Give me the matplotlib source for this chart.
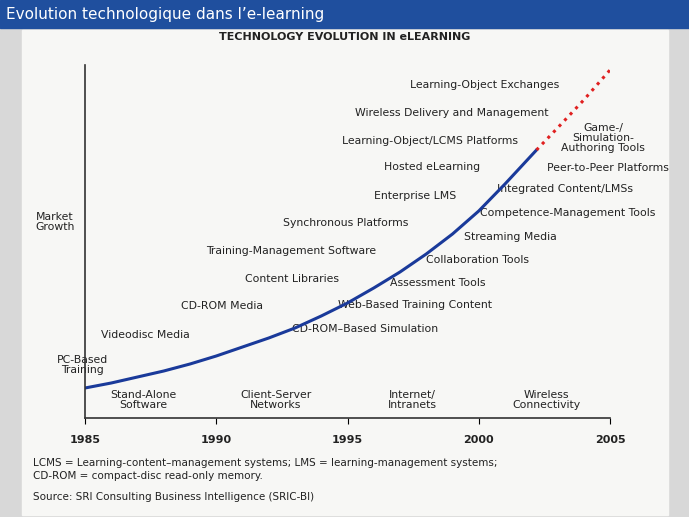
import matplotlib.pyplot as plt

# curve data (year, market growth in arbitrary units)
years_solid = [1985, 1986, 1987, 1988, 1989, 1990, 1991, 1992, 1993, 1994,
               1995, 1996, 1997, 1998, 1999, 2000, 2001, 2002.2]
growth_solid = [30, 35, 41, 47, 54, 62, 71, 80, 90, 102,
                115, 130, 146, 164, 184, 207, 234, 268]
years_future = [2002.2, 2003, 2004, 2005]
growth_future = [268, 290, 318, 348]
tick_years = [1985, 1990, 1995, 2000, 2005]

# technology labels and their pixel positions
tech_labels = [
    ("Learning-Object Exchanges", 485, 85),
    ("Wireless Delivery and Management", 452, 113),
    ("Learning-Object/LCMS Platforms", 430, 141),
    ("Game-/\nSimulation-\nAuthoring Tools", 603, 138),
    ("Hosted eLearning", 432, 167),
    ("Peer-to-Peer Platforms", 608, 168),
    ("Enterprise LMS", 415, 196),
    ("Integrated Content/LMSs", 565, 189),
    ("Competence-Management Tools", 568, 213),
    ("Synchronous Platforms", 346, 223),
    ("Streaming Media", 510, 237),
    ("Training-Management Software", 291, 251),
    ("Collaboration Tools", 478, 260),
    ("Content Libraries", 292, 279),
    ("Assessment Tools", 438, 283),
    ("CD-ROM Media", 222, 306),
    ("Web-Based Training Content", 415, 305),
    ("Videodisc Media", 145, 335),
    ("CD-ROM\u2013Based Simulation", 365, 329),
    ("PC-Based\nTraining", 82, 365),
    ("Market\nGrowth", 55, 222),
]
era_labels = [
    ("Stand-Alone\nSoftware", 143, 400),
    ("Client-Server\nNetworks", 276, 400),
    ("Internet/\nIntranets", 412, 400),
    ("Wireless\nConnectivity", 546, 400),
]

W, H = 689, 517
fig = plt.figure(figsize=(W / 100, H / 100), dpi=100)
fig.patch.set_facecolor('#d8d8d8')

# overlay in pixel coordinates
bg = fig.add_axes([0, 0, 1, 1])
bg.set_xlim(0, W)
bg.set_ylim(H, 0)
bg.axis('off')
bg.add_patch(plt.Rectangle((0, 0), W, 28, color='#1f4f9e'))
bg.add_patch(plt.Rectangle((22, 30), 646, 485, color='#f7f7f5'))
bg.text(6, 14, "Evolution technologique dans l\u2019e-learning", color='white',
        fontsize=11, va='center', ha='left')
bg.text(345, 37, "TECHNOLOGY EVOLUTION IN eLEARNING", fontsize=8,
        fontweight='bold', ha='center', va='center', color='#222222')
for txt, x, y in tech_labels + era_labels:
    bg.text(x, y, txt, fontsize=7.8, ha='center', va='center', color='#222222',
            linespacing=1.0)
bg.text(33, 463, "LCMS = Learning-content\u2013management systems; LMS = learning-management systems;",
        fontsize=7.5, va='center', color='#222222')
bg.text(33, 476, "CD-ROM = compact-disc read-only memory.", fontsize=7.5, va='center', color='#222222')
bg.text(33, 497, "Source: SRI Consulting Business Intelligence (SRIC-BI)", fontsize=7.5,
        va='center', color='#222222')

# data axes
x0, x1, yb, yt = 85, 610, 418, 65
ax = fig.add_axes([x0 / W, (H - yb) / H, (x1 - x0) / W, (yb - yt) / H])
ax.patch.set_alpha(0)
ax.set_xlim(1985, 2005)
ax.set_ylim(0, yb - yt)
ax.plot(years_solid, growth_solid, color='#1a3a9a', lw=2.2)
ax.plot(years_future, growth_future, color='#e02020', lw=2.2, ls=':')
for s in ['top', 'right']:
    ax.spines[s].set_visible(False)
ax.spines['left'].set_color('#333333')
ax.spines['bottom'].set_color('#333333')
ax.spines['left'].set_linewidth(1.2)
ax.spines['bottom'].set_linewidth(1.2)
ax.set_xticks(tick_years)
ax.set_xticklabels([str(t) for t in tick_years], fontsize=8, fontweight='bold', color='#222222')
ax.tick_params(axis='x', length=4, pad=8)
ax.set_yticks([])

fig.savefig('out.png', dpi=100)
